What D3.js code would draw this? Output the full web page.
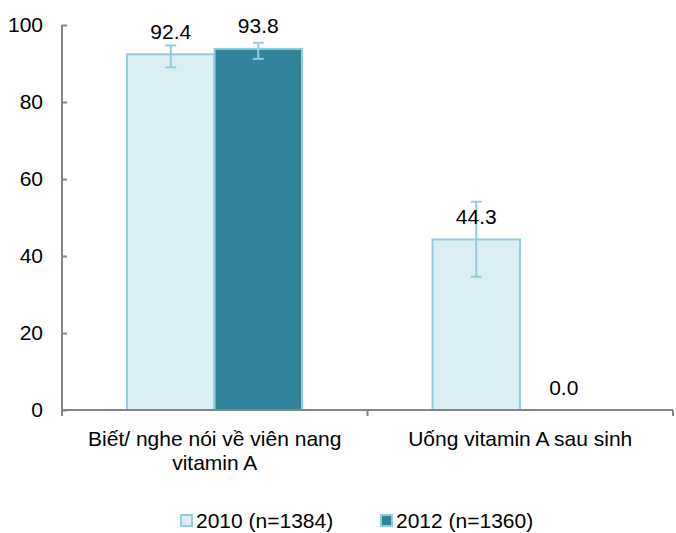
<!DOCTYPE html>
<html>
<head>
<meta charset="utf-8">
<script src="https://cdn.jsdelivr.net/npm/d3@7"></script>
<style>
    body { margin: 0; background: #fff; }
    text { font-family: Arial, "Liberation Sans", sans-serif; fill: #000; }
</style>
</head>
<body>
<div id="chart"></div>
<script>
    var categories = ["Biết/ nghe nói về viên nang\nvitamin A", "Uống vitamin A sau sinh"];
    var series = ["2010 (n=1384)", "2012 (n=1360)"];
    var values2010 = [92.4, 44.3];
    var values2012 = [93.8, 0.0];
    var low2010 = [89.0, 34.6];
    var high2010 = [94.7, 54.1];
    var low2012 = [91.2, null];
    var high2012 = [95.4, null];
    var yTicks = [0, 20, 40, 60, 80, 100];

    var width = 676, height = 533;
    var fills = ["#DBEEF4", "#31849B"];
    var edge = "#93CDDD";
    var axisColor = "#868686";

    var svg = d3.select("#chart").append("svg")
        .attr("width", width)
        .attr("height", height);

    var x = d3.scaleBand().domain(categories).range([62, 673]);
    var xs = d3.scaleBand().domain(series).range([65, 240]);
    var y = d3.scaleLinear().domain([0, 100]).range([410, 25]);

    var rows = [
        {vals: values2010, lo: low2010, hi: high2010},
        {vals: values2012, lo: low2012, hi: high2012}
    ];

    // y axis
    var yAxis = svg.append("g")
        .attr("transform", "translate(62,0)")
        .call(d3.axisLeft(y).tickValues(yTicks).tickSize(-5).tickPadding(19).tickFormat(d3.format("d")));
    yAxis.selectAll("line, path").attr("stroke", axisColor).attr("stroke-width", 2);
    yAxis.select("path").attr("d", "M0," + y(100) + "V" + y(0));
    yAxis.selectAll("text").style("font-size", "21px").attr("fill", "#000");

    // bars
    rows.forEach(function(r, si){
        categories.forEach(function(c, ci){
            var v = r.vals[ci];
            var bx = x(c) + xs(series[si]);
            if(v > 0)
            {
                svg.append("rect")
                    .attr("x", bx)
                    .attr("y", y(v))
                    .attr("width", xs.bandwidth())
                    .attr("height", y(0) - y(v))
                    .attr("fill", fills[si])
                    .attr("stroke", edge)
                    .attr("stroke-width", 2);
            }
        });
    });

    // x axis
    var xAxis = svg.append("g")
        .attr("transform", "translate(0,410)");
    xAxis.append("line")
        .attr("x1", 62).attr("x2", 673)
        .attr("stroke", axisColor).attr("stroke-width", 2);
    [x(categories[0]), x(categories[1]), x(categories[1]) + x.bandwidth()].forEach(function(t){
        xAxis.append("line")
            .attr("x1", t).attr("x2", t).attr("y1", 0).attr("y2", 6)
            .attr("stroke", axisColor).attr("stroke-width", 2);
    });

    // error bars + labels
    rows.forEach(function(r, si){
        categories.forEach(function(c, ci){
            var cx = x(c) + xs(series[si]) + xs.bandwidth() / 2;
            if(r.lo[ci] != null)
            {
                var g = svg.append("g").attr("stroke", edge).attr("stroke-width", 2);
                g.append("line").attr("x1", cx).attr("x2", cx).attr("y1", y(r.lo[ci])).attr("y2", y(r.hi[ci]));
                g.append("line").attr("x1", cx - 5.5).attr("x2", cx + 5.5).attr("y1", y(r.lo[ci])).attr("y2", y(r.lo[ci]));
                g.append("line").attr("x1", cx - 5.5).attr("x2", cx + 5.5).attr("y1", y(r.hi[ci])).attr("y2", y(r.hi[ci]));
            }
            svg.append("text")
                .attr("x", cx)
                .attr("y", y(r.vals[ci]) - 15.5)
                .attr("text-anchor", "middle")
                .style("font-size", "21px")
                .text(d3.format(".1f")(r.vals[ci]));
        });
    });

    // category labels
    categories.forEach(function(c){
        var t = svg.append("text")
            .attr("text-anchor", "middle")
            .style("font-size", "21px");
        c.split("\n").forEach(function(line, i){
            t.append("tspan")
                .attr("x", x(c) + x.bandwidth() / 2)
                .attr("y", 446 + i * 24)
                .text(line);
        });
    });

    // legend
    var legendX = [180, 380];
    series.forEach(function(s, i){
        svg.append("rect")
            .attr("x", legendX[i] + 1)
            .attr("y", 515)
            .attr("width", 11)
            .attr("height", 11)
            .attr("fill", fills[i])
            .attr("stroke", edge)
            .attr("stroke-width", 2);
        svg.append("text")
            .attr("x", legendX[i] + 16)
            .attr("y", 528)
            .style("font-size", "21px")
            .text(s);
    });
</script>
</body>
</html>
